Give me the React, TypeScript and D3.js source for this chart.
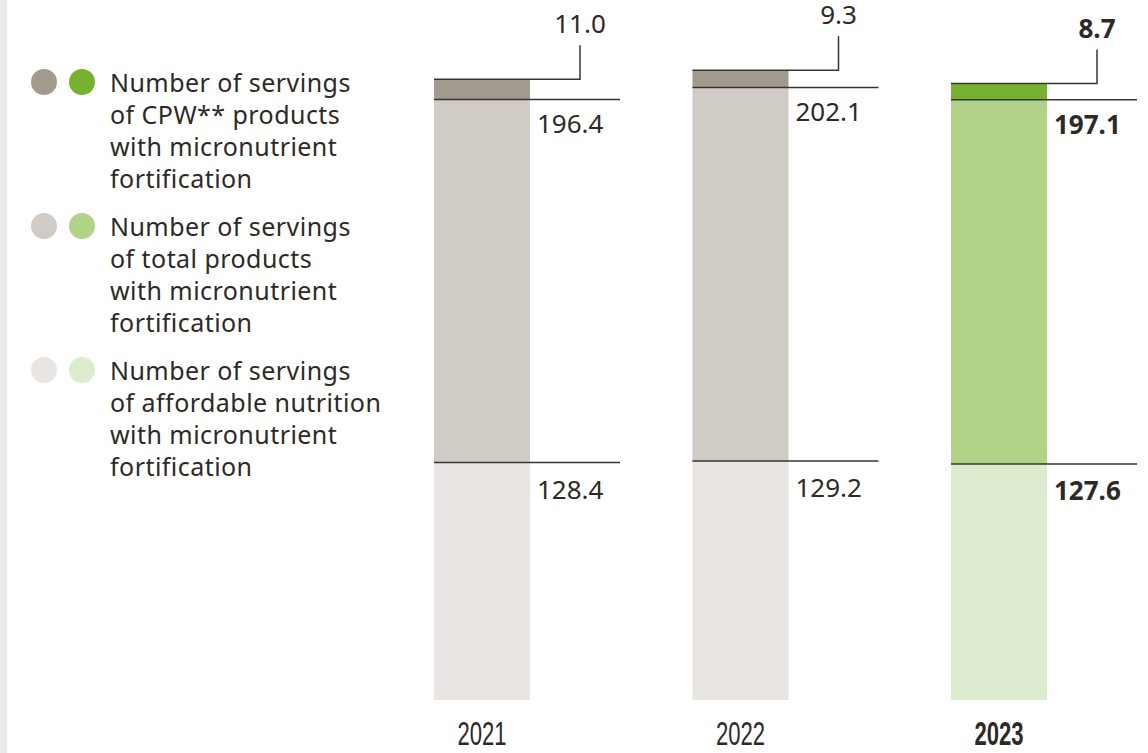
import React from "react";
import * as d3 from "d3";

const years = ["2021", "2022", "2023"];
const affordable = [128.4, 129.2, 127.6];
const total = [196.4, 202.1, 197.1];
const cpw = [11.0, 9.3, 8.7];
const highlight = [false, false, true];

const grayColors = ["#e8e5e2", "#d0cbc5", "#a39a8e"];
const greenColors = ["#ddecce", "#b0d388", "#76b22f"];

const legendItems = [
  ["Number of servings", "of CPW** products", "with micronutrient", "fortification"],
  ["Number of servings", "of total products", "with micronutrient", "fortification"],
  ["Number of servings", "of affordable nutrition", "with micronutrient", "fortification"],
];
const legendColorIdx = [2, 1, 0];

const W = 1148;
const H = 753;
const FONT = "'Noto Sans', sans-serif";
const TEXT = "#2e2925";
const LINE = "#3a3430";

export default function App() {
  const x = d3.scaleBand<string>().domain(years).range([434, 1047]).paddingInner(0.6286).paddingOuter(0);
  const y = d3.scaleLinear().domain([0, 378.6]).range([700, 0]);
  const bw = x.bandwidth();

  return (
    <svg width={W} height={H} style={{ position: "absolute", left: 0, top: 0, background: "#fff" }}>
      <rect x={0} y={0} width={7} height={H} fill="#edebe8" />
      {legendItems.map((lines, i) => {
        const cy = 82 + i * 144;
        const ci = legendColorIdx[i];
        return (
          <g key={i}>
            <circle cx={44} cy={cy} r={13} fill={grayColors[ci]} />
            <circle cx={82} cy={cy} r={13} fill={greenColors[ci]} />
            {lines.map((t, j) => (
              <text key={j} x={110} y={cy + 10 + j * 32} fontFamily={FONT} fontSize={25} letterSpacing={0.45} fill={TEXT}>
                {t}
              </text>
            ))}
          </g>
        );
      })}
      {years.map((yr, i) => {
        const x0 = x(yr)!;
        const cols = highlight[i] ? greenColors : grayColors;
        const y1 = y(affordable[i]);
        const y2 = y(affordable[i] + total[i]);
        const y3 = y(affordable[i] + total[i] + cpw[i]);
        const weight = highlight[i] ? 700 : 400;
        const right = x0 + bw;
        return (
          <g key={yr}>
            <rect x={x0} y={y1} width={bw} height={y(0) - y1} fill={cols[0]} />
            <rect x={x0} y={y2} width={bw} height={y1 - y2} fill={cols[1]} />
            <rect x={x0} y={y3} width={bw} height={y2 - y3} fill={cols[2]} />
            <line x1={x0} x2={right + 90} y1={y1} y2={y1} stroke={LINE} strokeWidth={1.5} />
            <line x1={x0} x2={right + 90} y1={y2} y2={y2} stroke={LINE} strokeWidth={1.5} />
            <polyline
              points={`${x0},${y3} ${right + 50},${y3} ${right + 50},${y3 - 34}`}
              fill="none"
              stroke={LINE}
              strokeWidth={1.5}
            />
            <text x={right + 50} y={y3 - 46} textAnchor="middle" fontFamily={FONT} fontSize={26} fontWeight={weight} fill={TEXT}>
              {cpw[i].toFixed(1)}
            </text>
            <text x={right + 7} y={y2 + 34} fontFamily={FONT} fontSize={26} fontWeight={weight} fill={TEXT}>
              {total[i].toFixed(1)}
            </text>
            <text x={right + 7} y={y1 + 36} fontFamily={FONT} fontSize={26} fontWeight={weight} fill={TEXT}>
              {affordable[i].toFixed(1)}
            </text>
            <text
              transform={`translate(${x0 + bw / 2},745) scale(0.67,1)`}
              textAnchor="middle"
              fontFamily="'Liberation Sans', sans-serif"
              fontSize={33}
              fontWeight={highlight[i] ? 700 : 300}
              fill={TEXT}
            >
              {yr}
            </text>
          </g>
        );
      })}
    </svg>
  );
}
